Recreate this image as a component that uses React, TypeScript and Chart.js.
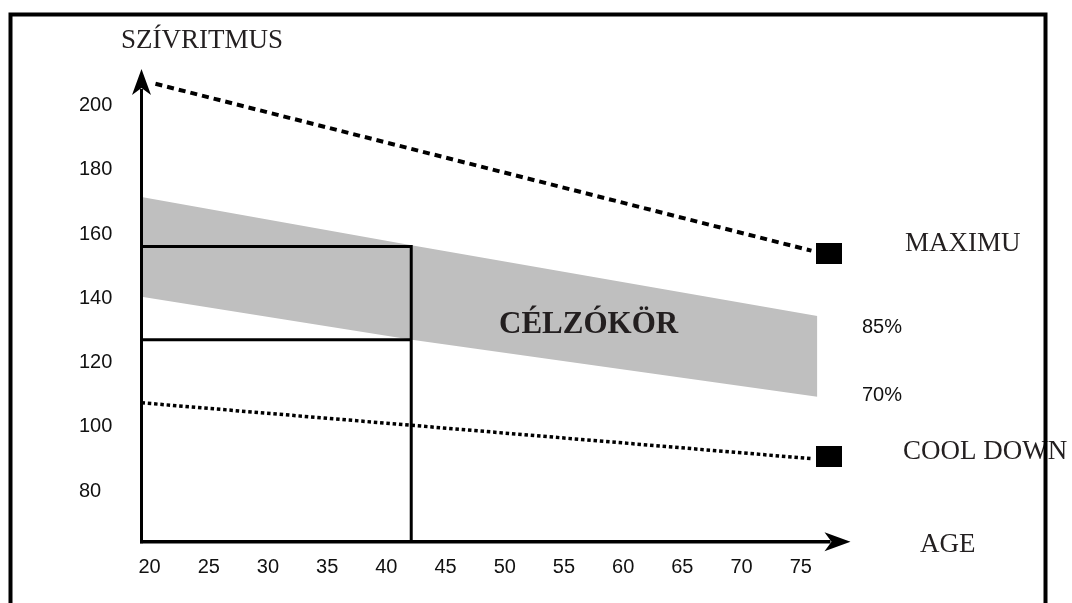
import React, { useEffect, useRef } from "react";
import { Chart, registerables } from "chart.js";

Chart.register(...registerables);

// ---- data ----
const xTicks = [20, 25, 30, 35, 40, 45, 50, 55, 60, 65, 70, 75];
const yTicks = [80, 100, 120, 140, 160, 180, 200];
const xMin = 19.32;
const xMax = 79.2;
const yMin = 63.7;
const yMax = 210.7;

const bandAges = [19.32, 42, 76.4];
const band85 = [170.9, 156.0, 133.9];
const band70 = [139.9, 126.6, 108.8];

const maxAges = [20.5, 75.9];
const maxValues = [206.1, 154.2];

const coolAges = [19.32, 76.0];
const coolValues = [106.9, 89.5];

const markerAge = 77.4;
const markerValues = [153.4, 90.1];

const zoneAge = 42.1;
const zoneTop = 155.5;
const zoneBottom = 126.5;

const yTitle = "SZÍVRITMUS";
const xTitle = "AGE";
const zoneLabel = "CÉLZÓKÖR";
const lineLabels = ["MAXIMU", "85%", "70%", "COOL DOWN"];

const pts = (xs: number[], ys: number[]) => xs.map((x, i) => ({ x, y: ys[i] }));

export default function App() {
  const ref = useRef<HTMLCanvasElement | null>(null);

  useEffect(() => {
    const canvas = ref.current;
    if (!canvas) return;

    const marker = document.createElement("canvas");
    marker.width = 26;
    marker.height = 21;
    const mctx = marker.getContext("2d")!;
    mctx.fillStyle = "#000";
    mctx.fillRect(0, 0, 26, 21);

    const decor = {
      id: "decor",
      afterDraw(chart: any) {
        const ctx = chart.ctx as CanvasRenderingContext2D;
        const { left, right, top, bottom } = chart.chartArea;
        const xs = chart.scales.x;
        const ys = chart.scales.y;
        ctx.save();
        ctx.fillStyle = "#000";
        ctx.strokeStyle = "#000";
        // y axis
        ctx.lineWidth = 3;
        ctx.beginPath();
        ctx.moveTo(left, bottom + 1.5);
        ctx.lineTo(left, top + 20);
        ctx.stroke();
        ctx.beginPath();
        ctx.moveTo(left, top);
        ctx.lineTo(left + 9.5, top + 26);
        ctx.lineTo(left, top + 19);
        ctx.lineTo(left - 9.5, top + 26);
        ctx.closePath();
        ctx.fill();
        // x axis
        ctx.lineWidth = 3.5;
        ctx.beginPath();
        ctx.moveTo(left - 1.5, bottom);
        ctx.lineTo(right - 20, bottom);
        ctx.stroke();
        ctx.beginPath();
        ctx.moveTo(right, bottom);
        ctx.lineTo(right - 26, bottom - 9.5);
        ctx.lineTo(right - 19, bottom);
        ctx.lineTo(right - 26, bottom + 9.5);
        ctx.closePath();
        ctx.fill();

        // tick labels
        ctx.font = '20px "Liberation Sans", Arial, sans-serif';
        ctx.fillStyle = "#111";
        ctx.textBaseline = "alphabetic";
        ctx.textAlign = "left";
        yTicks.forEach((v) => {
          ctx.fillText(String(v), 79, ys.getPixelForValue(v) + 7.5);
        });
        ctx.textAlign = "center";
        xTicks.forEach((v) => {
          ctx.fillText(String(v), xs.getPixelForValue(v), 573);
        });
        ctx.textAlign = "left";
        ctx.fillText(lineLabels[1], 862, 333);
        ctx.fillText(lineLabels[2], 862, 401);

        // serif labels
        ctx.fillStyle = "#231f20";
        ctx.font = '27px "Liberation Serif", "Times New Roman", serif';
        ctx.fillText(yTitle, 121, 48);
        ctx.fillText(lineLabels[0], 905, 251);
        ctx.fillText(lineLabels[3], 903, 459);
        ctx.fillText(xTitle, 920, 552);
        ctx.font = 'bold 31px "Liberation Serif", "Times New Roman", serif';
        ctx.fillText(zoneLabel, 499, 333);

        // frame
        ctx.strokeStyle = "#000";
        ctx.lineWidth = 4;
        ctx.strokeRect(10.5, 14.5, 1035, 700);
        ctx.restore();
      },
    };

    const chart = new Chart(canvas, {
      type: "line",
      data: {
        datasets: [
          {
            label: "markers",
            data: markerValues.map((v) => ({ x: markerAge, y: v })),
            showLine: false,
            pointStyle: marker as any,
            pointRadius: 13,
            borderWidth: 0,
            clip: false as any,
          },
          {
            label: "zone",
            data: [
              { x: xMin, y: zoneTop },
              { x: zoneAge, y: zoneTop },
              { x: zoneAge, y: yMin },
            ],
            borderColor: "#000",
            borderWidth: 3,
            borderJoinStyle: "miter",
            pointRadius: 0,
            fill: false,
            clip: false as any,
          },
          {
            label: "zoneBottom",
            data: [
              { x: xMin, y: zoneBottom },
              { x: zoneAge, y: zoneBottom },
            ],
            borderColor: "#000",
            borderWidth: 3,
            pointRadius: 0,
            fill: false,
            clip: false as any,
          },
          {
            label: "max",
            data: pts(maxAges, maxValues),
            borderColor: "#000",
            borderWidth: 4,
            borderDash: [7, 5],
            pointRadius: 0,
            fill: false,
            clip: false as any,
          },
          {
            label: "cool",
            data: pts(coolAges, coolValues),
            borderColor: "#000",
            borderWidth: 3.5,
            borderDash: [3.5, 2.8],
            pointRadius: 0,
            fill: false,
            clip: false as any,
          },
          {
            label: "85%",
            data: pts(bandAges, band85),
            borderWidth: 0,
            borderColor: "rgba(0,0,0,0)",
            backgroundColor: "#bfbfbf",
            pointRadius: 0,
            fill: "+1",
          },
          {
            label: "70%",
            data: pts(bandAges, band70),
            borderWidth: 0,
            borderColor: "rgba(0,0,0,0)",
            pointRadius: 0,
            fill: false,
          },
        ],
      },
      options: {
        animation: false,
        responsive: false,
        events: [],
        layout: { padding: { left: 141.5, right: 221.5, top: 69, bottom: 61.3 } },
        scales: {
          x: { type: "linear", min: xMin, max: xMax, display: false },
          y: { type: "linear", min: yMin, max: yMax, display: false },
        },
        plugins: {
          legend: { display: false },
          tooltip: { enabled: false },
          filler: { drawTime: "beforeDatasetsDraw" } as any,
        },
      },
      plugins: [decor],
    });
    return () => chart.destroy();
  }, []);

  return (
    <div style={{ position: "absolute", left: 0, top: 0, width: 1072, height: 603, background: "#fff" }}>
      <canvas ref={ref} width={1072} height={603} style={{ display: "block" }} />
    </div>
  );
}
